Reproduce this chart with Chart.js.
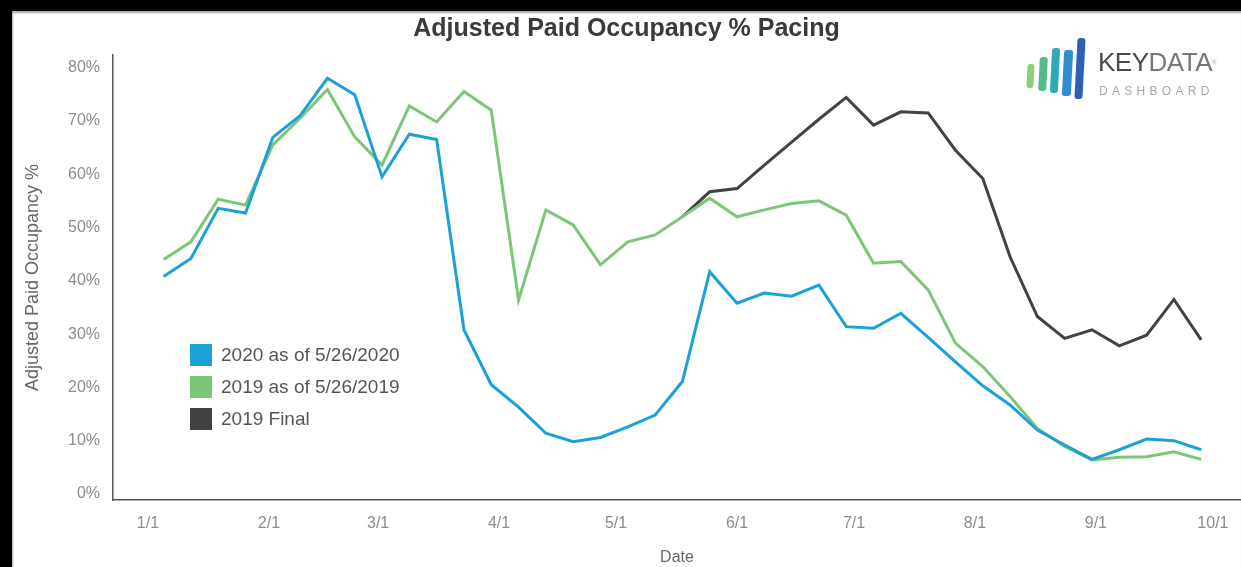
<!DOCTYPE html>
<html>
<head>
<meta charset="utf-8">
<script src="https://cdn.jsdelivr.net/npm/chart.js@4.4.1/dist/chart.umd.min.js"></script>
<style>
body { margin:0; width:1241px; height:567px; background:#000; overflow:hidden; font-family:"Liberation Sans", Arial, sans-serif; }
#panel { position:absolute; left:12px; top:11px; width:1229px; height:556px; background:#fff; box-shadow: inset 1px 2px 2px #aaa; }
#chart { position:absolute; left:0; top:0; }
#legend { position:absolute; left:178px; top:328px; }
.item { display:flex; align-items:center; height:32px; font-size:19px; color:#555; white-space:nowrap; }
.box { width:22px; height:22px; margin-right:9px; }
#logo { position:absolute; left:1010px; top:25px; width:210px; height:80px; }
.bar { position:absolute; border-radius:3px; transform:skewX(-3deg); }
#kd { position:absolute; left:76px; top:13px; font-size:26px; letter-spacing:-0.5px; color:#777; line-height:26px; }
#kd b { font-weight:normal; color:#4a4a4a; }
#kd sup { font-size:6px; vertical-align:top; color:#999; }
#dash { position:absolute; left:77px; top:49px; font-size:12px; letter-spacing:4.3px; color:#a8a8a8; line-height:12px; }
</style>
</head>
<body>
<div id="panel">
  <canvas id="chart" width="1229" height="556"></canvas>
  <div id="legend"></div>
  <div id="logo">
    <div class="bar" style="left:5px;top:28px;width:7px;height:24px;background:#8ccf7f"></div>
    <div class="bar" style="left:17px;top:21px;width:8px;height:34px;background:#53bb88"></div>
    <div class="bar" style="left:29px;top:12px;width:8px;height:45px;background:#2faab6"></div>
    <div class="bar" style="left:41px;top:14px;width:9px;height:46px;background:#2e8fd0"></div>
    <div class="bar" style="left:54px;top:2px;width:8px;height:61px;background:#2d5fb5"></div>
    <div id="kd"><b>KEY</b>DATA<sup>®</sup></div>
    <div id="dash">DASHBOARD</div>
  </div>
</div>
<script>
const chartTitle = 'Adjusted Paid Occupancy % Pacing';
const seriesNames = ['2020 as of 5/26/2020', '2019 as of 5/26/2019', '2019 Final'];
const seriesColors = ['#1ba0d8', '#7cc677', '#424242'];

// weekly data points (month/day)
const weeks = ['1/5','1/12','1/19','1/26','2/2','2/9','2/16','2/23','3/2','3/9','3/16','3/23','3/30',
  '4/6','4/13','4/20','4/27','5/4','5/11','5/18','5/25','6/1','6/8','6/15','6/22','6/29',
  '7/6','7/13','7/20','7/27','8/3','8/10','8/17','8/24','8/31','9/7','9/14','9/21','9/28'];

const occ2020 = [40.8, 44.2, 53.6, 52.7, 66.9, 71.0, 78.0, 74.9, 59.5, 67.5, 66.5, 30.8, 20.5,
  16.3, 11.4, 9.8, 10.6, 12.6, 14.8, 21.1, 41.7, 35.8, 37.7, 37.1, 39.2, 31.4,
  31.1, 33.9, 29.4, 24.8, 20.3, 16.7, 12.0, 9.2, 6.5, 8.3, 10.3, 10.0, 8.3];

const occ2019 = [44.0, 47.3, 55.3, 54.2, 65.5, 70.5, 75.9, 67.0, 61.7, 72.8, 69.8, 75.5, 72.0,
  36.4, 53.3, 50.5, 43.0, 47.3, 48.6, 52.0, 55.5, 52.0, 53.3, 54.5, 55.0, 52.3,
  43.3, 43.6, 38.3, 28.3, 23.9, 18.3, 12.3, 8.9, 6.4, 6.9, 7.0, 7.9, 6.5];

const occ2019Final = [null, null, null, null, null, null, null, null, null, null, null, null, null,
  null, null, null, null, null, null, 52.0, 56.7, 57.3, 61.7, 66.0, 70.3, 74.4,
  69.2, 71.7, 71.5, 64.5, 59.2, 44.5, 33.3, 29.2, 30.8, 27.8, 29.8, 36.5, 28.9];

const xTickLabels = ['1/1','2/1','3/1','4/1','5/1','6/1','7/1','8/1','9/1','10/1'];
const yTickValues = [0, 10, 20, 30, 40, 50, 60, 70, 80];

const monthStart = [0, 31, 59, 90, 120, 151, 181, 212, 243, 273, 304, 334];
function dayOfYear(md) {
  const [m, d] = md.split('/').map(Number);
  return monthStart[m - 1] + d - 1;
}
const weekDays = weeks.map(dayOfYear);
const tickDays = xTickLabels.map(dayOfYear);

Chart.defaults.font.family = '"Liberation Sans", Arial, sans-serif';

const allSeries = [occ2020, occ2019, occ2019Final];
const datasets = allSeries.map((vals, i) => ({
  label: seriesNames[i],
  data: vals.map((v, j) => ({ x: weekDays[j], y: v })),
  borderColor: seriesColors[i],
  backgroundColor: seriesColors[i],
  borderWidth: 3,
  pointRadius: 0,
  tension: 0,
  fill: false
}));

const chart = new Chart(document.getElementById('chart'), {
  type: 'line',
  data: { datasets: datasets },
  options: {
    responsive: false,
    animation: false,
    layout: { padding: 0 },
    plugins: {
      legend: { display: false },
      tooltip: { enabled: false },
      title: {
        display: true,
        text: chartTitle,
        color: '#3a3a3a',
        font: { size: 25, weight: 'bold' },
        padding: { top: 3, bottom: 11 }
      }
    },
    scales: {
      x: {
        type: 'linear',
        min: -8.97,
        max: 280.2,
        grid: { display: false },
        border: { display: true, color: '#555', width: 1.5 },
        ticks: {
          color: '#8c8c8c',
          font: { size: 16 },
          padding: 6,
          autoSkip: false,
          maxRotation: 0,
          callback: (v, i) => xTickLabels[i]
        },
        afterBuildTicks: s => { s.ticks = tickDays.map(v => ({ value: v })); },
        afterFit: s => { s.height = 67; },
        title: { display: true, text: 'Date', color: '#666', font: { size: 16 }, padding: { top: 0, bottom: 0 } }
      },
      y: {
        min: -1.125,
        max: 82.36,
        grid: { display: false },
        border: { display: true, color: '#555', width: 1.5 },
        ticks: {
          color: '#8c8c8c',
          font: { size: 16 },
          padding: 5,
          callback: v => v + '%'
        },
        afterBuildTicks: s => { s.ticks = yTickValues.map(v => ({ value: v })); },
        afterFit: s => { s.width = 101; },
        title: { display: true, text: 'Adjusted Paid Occupancy %', color: '#666', font: { size: 18 }, padding: { top: 10, bottom: 0 } }
      }
    }
  }
});

// legend inside the plot
const legendEl = document.getElementById('legend');
chart.data.datasets.forEach(ds => {
  const item = document.createElement('div');
  item.className = 'item';
  item.innerHTML = `<span class="box" style="background:${ds.borderColor}"></span>${ds.label}`;
  legendEl.appendChild(item);
});
</script>
</body>
</html>
